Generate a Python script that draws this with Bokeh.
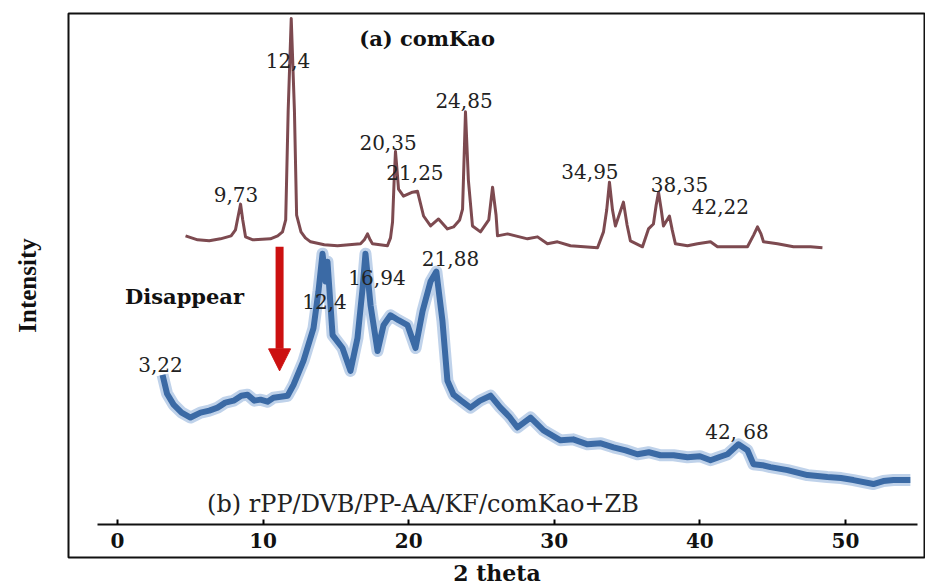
from bokeh.plotting import figure
from bokeh.models import Range1d, FixedTicker, Title, Arrow, NormalHead, ColumnDataSource
from bokeh.core.properties import value
from bokeh.embed import file_html
from bokeh.resources import INLINE

# ---------------- data ----------------
# (a) comKao
kao_2theta = [4.67, 5.5, 6.3, 7.07, 7.8, 8.1, 8.3, 8.45, 8.6, 8.79, 9.3, 10.5, 11.0, 11.33, 11.55,
              11.72, 11.93, 12.15, 12.3, 12.6, 12.9, 13.26, 14.2, 15.11, 16.69, 16.95, 17.17,
              17.35, 17.51, 18.54, 18.75, 18.89, 19.0, 19.09, 19.2, 19.3, 19.64, 20.26, 20.6,
              21.02, 21.5, 22.05, 22.66, 23.08, 23.5, 23.7, 23.9, 24.1, 24.38, 24.93, 25.5,
              25.76, 26.0, 26.1, 26.79, 28.16, 28.85, 29.53, 30.22, 31.11, 32.97, 33.38, 33.6,
              33.79, 34.0, 34.2, 34.75, 35.0, 35.23, 36.06, 36.47, 36.81, 37.0, 37.16, 37.35,
              37.5, 37.91, 38.1, 38.32, 39.15, 39.84, 40.73, 41.21, 43.27, 43.7, 43.96, 44.2,
              44.37, 45.33, 46.43, 47.6, 48.42]
kao_intensity = [324, 320, 319, 321, 324, 330, 345, 356, 340, 323, 320, 321, 324, 328, 340,
                 450, 543, 450, 345, 328, 322, 318, 315, 314, 316, 320, 326,
                 320, 316, 314, 322, 338, 380, 409, 390, 371, 364, 368, 369,
                 344, 334, 341, 331, 333, 340, 351, 449, 380, 334, 328, 340,
                 373, 345, 324, 326, 321, 323, 316, 318, 314, 312, 328, 350,
                 378, 350, 334, 358, 335, 319, 313, 331, 336, 355, 368, 350,
                 334, 344, 330, 316, 314, 316, 318, 313, 313, 325, 333, 326,
                 318, 316, 313, 313, 312]

# (b) rPP/DVB/PP-AA/KF/comKao+ZB
blend_2theta = [3.09, 3.4, 3.85, 4.4, 5.01, 5.7, 6.3, 6.87, 7.4, 7.97, 8.5, 8.93, 9.4, 9.82,
                10.3, 10.71, 11.2, 11.68, 12.09, 12.77, 13.46, 13.8, 14.08, 14.29, 14.42, 14.77,
                15.45, 16.0, 16.48, 16.83, 17.03, 17.38, 17.86, 18.27, 18.75, 19.3, 19.92, 20.47,
                20.95, 21.5, 21.9, 22.32, 22.66, 23.08, 23.6, 24.24, 24.9, 25.62, 26.3, 26.9,
                27.47, 28.37, 29.26, 30.43, 31.3, 32.28, 33.2, 34.07, 34.9, 35.71, 36.5, 37.29,
                38.2, 39.15, 40.0, 40.73, 41.3, 41.9, 42.65, 43.27, 43.68, 44.3, 44.85, 46.02,
                47.39, 48.76, 49.7, 50.55, 51.92, 52.6, 53.3, 54.46]
blend_intensity = [184, 165, 154, 146, 141, 146, 148, 151, 156, 158, 163, 164, 158, 159,
                   157, 161, 162, 163, 174, 198, 231, 268, 306, 278, 298, 224,
                   211, 188, 221, 271, 306, 254, 208, 234, 244, 239, 234, 211,
                   248, 278, 288, 238, 178, 164, 158, 151, 158, 163, 151, 142,
                   131, 141, 128, 118, 119, 114, 115, 111, 108, 104, 106, 103,
                   103, 101, 102, 98, 101, 104, 114, 108, 94, 93, 91, 88,
                   83, 81, 80, 78, 74, 77, 78, 78]

x_ticks = [0, 10, 20, 30, 40, 50]

peak_text = ["12,4", "9,73", "20,35", "21,25", "24,85", "34,95", "38,35", "42,22",
             "12,4", "16,94", "21,88", "3,22", "42, 68"]
peak_x = [11.71, 8.14, 18.58, 20.43, 23.8, 32.45, 38.6, 41.41,
          14.22, 17.82, 22.87, 2.95, 42.55]
peak_y = [501, 366, 418, 388, 460, 389, 376, 354,
          258, 282, 301, 194, 126]

note_text = ["(a) comKao", "Disappear"]
note_x = [21.26, 4.6]
note_y = [523, 263]

sample_b_text = ["(b) rPP/DVB/PP-AA/KF/comKao+ZB"]
sample_b_x = [20.98]
sample_b_y = [54]

arrow_2theta = 11.13
arrow_from, arrow_to = 313, 188

# ---------------- figure ----------------
p = figure(width=925, height=585, output_backend="svg", toolbar_location=None,
           x_range=Range1d(-3.37, 55.5), y_range=Range1d(0, 548),
           min_border_left=68, min_border_right=0, min_border_top=13, min_border_bottom=24)
p.background_fill_color = "white"
p.border_fill_color = "white"
p.outline_line_color = "#111111"
p.outline_line_width = 2
p.xgrid.visible = False
p.ygrid.visible = False

# y axis: only its title is shown
yax = p.yaxis[0]
yax.ticker = FixedTicker(ticks=[])
yax.axis_line_color = None
yax.major_tick_in = 0
yax.major_tick_out = 0
yax.minor_tick_in = 0
yax.minor_tick_out = 0
yax.axis_label = "Intensity"
yax.axis_label_standoff = 28
yax.axis_label_text_font = "Liberation Serif"
yax.axis_label_text_font_style = "bold"
yax.axis_label_text_font_size = "25px"
yax.axis_label_text_color = "#111111"

ax = p.xaxis[0]
ax.fixed_location = 33
ax.bounds = (-1.37, 54.95)
ax.ticker = FixedTicker(ticks=x_ticks)
ax.axis_line_width = 2
ax.axis_line_color = "#111111"
ax.major_tick_in = 5
ax.major_tick_out = 0
ax.minor_tick_in = 0
ax.minor_tick_out = 0
ax.major_tick_line_width = 2
ax.major_label_standoff = 8
ax.major_label_text_font = "DejaVu Serif"
ax.major_label_text_font_style = "bold"
ax.major_label_text_font_size = "20px"
ax.major_label_text_color = "#111111"

p.add_layout(Title(text="2 theta", align="center", text_font="DejaVu Serif",
                   text_font_style="bold", text_font_size="22px", text_color="#111111",
                   standoff=0), "below")

# curves
p.line(blend_2theta, blend_intensity, line_color="#7fa6d6", line_width=12, line_alpha=0.5,
       line_join="round")
p.line(blend_2theta, blend_intensity, line_color="#3b6aa5", line_width=6, line_join="round")
p.line(kao_2theta, kao_intensity, line_color="#7d4a50", line_width=3, line_join="round")

# arrow
p.add_layout(Arrow(end=NormalHead(size=22, fill_color="#cc1010", line_color="#cc1010"),
                   x_start=arrow_2theta, y_start=arrow_from, x_end=arrow_2theta, y_end=arrow_to,
                   line_color="#cc1010", line_width=8))

# labels
src_peaks = ColumnDataSource(dict(x=peak_x, y=peak_y, t=peak_text))
p.text(x="x", y="y", text="t", source=src_peaks, text_font=value("DejaVu Serif"),
       text_font_size="20px", text_align="center", text_baseline="middle", text_color="#222222")
src_notes = ColumnDataSource(dict(x=note_x, y=note_y, t=note_text))
p.text(x="x", y="y", text="t", source=src_notes, text_font=value("DejaVu Serif"),
       text_font_style="bold", text_font_size="21px", text_align="center",
       text_baseline="middle", text_color="#111111")
src_b = ColumnDataSource(dict(x=sample_b_x, y=sample_b_y, t=sample_b_text))
p.text(x="x", y="y", text="t", source=src_b, text_font=value("DejaVu Serif"),
       text_font_size="24px", text_align="center", text_baseline="middle", text_color="#222222")

open("out.html", "w").write(file_html(p, INLINE))
